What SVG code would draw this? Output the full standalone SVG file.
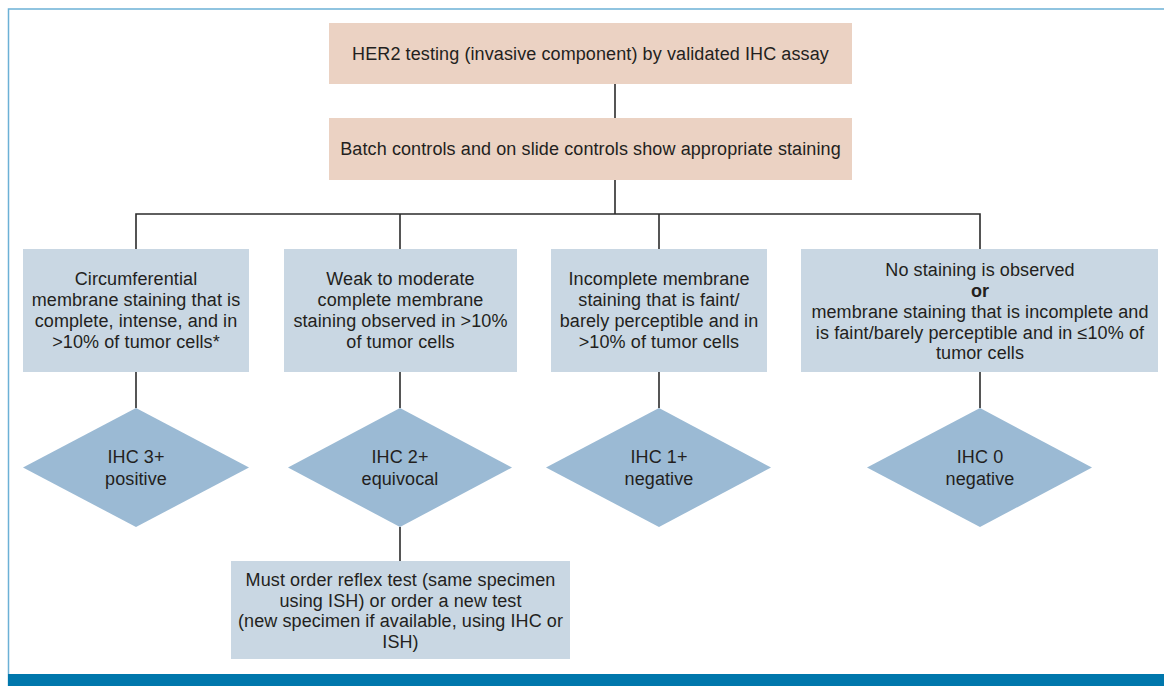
<svg xmlns="http://www.w3.org/2000/svg" width="1164" height="686" viewBox="0 0 1164 686">
<style>
.t{font-family:"Liberation Sans",Arial,sans-serif;font-size:18px;letter-spacing:0.1px;fill:#231F20;text-anchor:middle}
.b{font-weight:bold}
.top{fill:#EBD2C3}
.box{fill:#C9D7E3}
.dia{fill:#9BBAD4}
.c{stroke:#2B2B2B;stroke-width:1.6;fill:none}
</style>
<rect x="0" y="0" width="1164" height="686" fill="#FFFFFF"/>
<path d="M8.5,686 V9 H1164" fill="none" stroke="#6CB1D6" stroke-width="1.5"/>
<rect x="8" y="674" width="1156" height="12" fill="#0077AC"/>
<g id="connectors" class="c">
<line x1="615" y1="84" x2="615" y2="118"/>
<line x1="615" y1="180" x2="615" y2="214"/>
<polyline points="136,249 136,214 980,214 980,249"/>
<line x1="400" y1="214" x2="400" y2="249"/>
<line x1="659" y1="214" x2="659" y2="249"/>
<line x1="136" y1="372" x2="136" y2="408"/>
<line x1="400" y1="372" x2="400" y2="408"/>
<line x1="659" y1="372" x2="659" y2="408"/>
<line x1="980" y1="372" x2="980" y2="408"/>
<line x1="400" y1="527" x2="400" y2="561"/>
</g>
<g id="n-her2">
<rect class="top" x="329" y="23" width="523" height="61"/>
<text class="t" x="590.5" y="60">HER2 testing (invasive component) by validated IHC assay</text>
</g>
<g id="n-controls">
<rect class="top" x="329" y="118" width="523" height="62"/>
<text class="t" x="590.5" y="155">Batch controls and on slide controls show appropriate staining</text>
</g>
<g id="n-circ">
<rect class="box" x="23" y="249" width="226" height="123"/>
<text class="t" x="136" y="285">Circumferential</text>
<text class="t" x="136" y="306">membrane staining that is</text>
<text class="t" x="136" y="327">complete, intense, and in</text>
<text class="t" x="136" y="348">&gt;10% of tumor cells*</text>
</g>
<g id="n-weak">
<rect class="box" x="284" y="249" width="233" height="123"/>
<text class="t" x="400.5" y="285">Weak to moderate</text>
<text class="t" x="400.5" y="306">complete membrane</text>
<text class="t" x="400.5" y="327">staining observed in &gt;10%</text>
<text class="t" x="400.5" y="348">of tumor cells</text>
</g>
<g id="n-incomplete">
<rect class="box" x="551" y="249" width="216" height="123"/>
<text class="t" x="659" y="285">Incomplete membrane</text>
<text class="t" x="659" y="306">staining that is faint/</text>
<text class="t" x="659" y="327">barely perceptible and in</text>
<text class="t" x="659" y="348">&gt;10% of tumor cells</text>
</g>
<g id="n-none">
<rect class="box" x="801" y="249" width="357" height="123"/>
<text class="t" x="980" y="276">No staining is observed</text>
<text class="t b" x="980" y="297">or</text>
<text class="t" x="980" y="318">membrane staining that is incomplete and</text>
<text class="t" x="980" y="339">is faint/barely perceptible and in ≤10% of</text>
<text class="t" x="980" y="359">tumor cells</text>
</g>
<g id="d-3">
<polygon class="dia" points="136,408 249,467.5 136,527 23,467.5"/>
<text class="t" x="136" y="463">IHC 3+</text>
<text class="t" x="136" y="485">positive</text>
</g>
<g id="d-2">
<polygon class="dia" points="400,408 512,467.5 400,527 288,467.5"/>
<text class="t" x="400" y="463">IHC 2+</text>
<text class="t" x="400" y="485">equivocal</text>
</g>
<g id="d-1">
<polygon class="dia" points="659,408 771,467.5 659,527 546,467.5"/>
<text class="t" x="659" y="463">IHC 1+</text>
<text class="t" x="659" y="485">negative</text>
</g>
<g id="d-0">
<polygon class="dia" points="980,408 1092,467.5 980,527 867,467.5"/>
<text class="t" x="980" y="463">IHC 0</text>
<text class="t" x="980" y="485">negative</text>
</g>
<g id="n-reflex">
<rect class="box" x="231" y="561" width="339" height="98"/>
<text class="t" x="400.5" y="586">Must order reflex test (same specimen</text>
<text class="t" x="400.5" y="606.5">using ISH) or order a new test</text>
<text class="t" x="400.5" y="627">(new specimen if available, using IHC or</text>
<text class="t" x="400.5" y="647.5">ISH)</text>
</g>
</svg>
